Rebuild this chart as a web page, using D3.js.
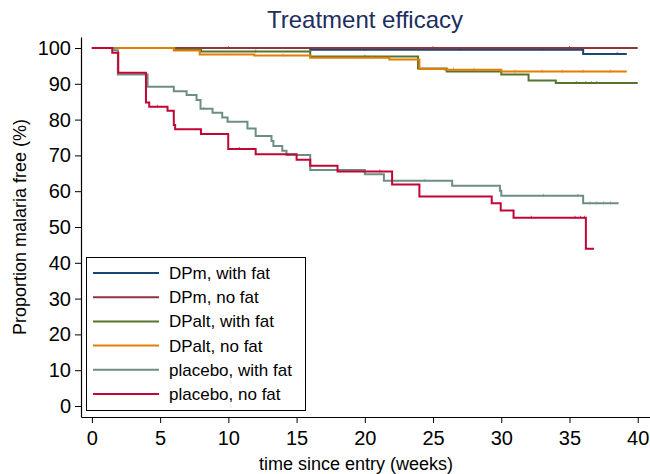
<!DOCTYPE html>
<html>
<head>
<meta charset="utf-8">
<script src="https://cdn.jsdelivr.net/npm/d3@7"></script>
<style>
  body { margin: 0; background: #fff; }
  svg { display: block; font-family: "Liberation Sans", Arial, sans-serif; }
</style>
</head>
<body>
<svg id="chart" width="650" height="474"></svg>
<script>
// series names and colours, legend order
const seriesNames = ['DPm, with fat', 'DPm, no fat', 'DPalt, with fat', 'DPalt, no fat', 'placebo, with fat', 'placebo, no fat']
const seriesColors = ['#1a476f', '#90353b', '#55752f', '#e37e00', '#6e8e84', '#c10534']

// Kaplan-Meier steps: [weeks, % malaria free] at each change
const dpmWithFat = [[0, 100], [16, 99.5], [36, 98.3], [39.2, 98.3]]
const dpmNoFat = [[0, 100], [40, 100]]
const dpaltWithFat = [[0, 100], [6.1, 99.6], [8, 99], [16, 97.6], [23.9, 94.3], [26, 93.4], [30, 92.6], [32, 90.9], [34, 90.2], [40, 90.2]]
const dpaltNoFat = [[0, 100], [6, 99.3], [7.9, 98.2], [11.9, 97.9], [16, 97.3], [21.8, 96.8], [24, 94.1], [25.9, 93.9], [30, 93.4], [39.2, 93.4]]
const placeboWithFat = [[0, 100], [1.63, 99.4], [1.9, 92.6], [4.08, 89.2], [6, 87.9], [6.94, 86.9], [7.67, 85.5],
  [7.96, 83], [8.84, 81.9], [9.55, 80.6], [9.94, 79.4], [11.4, 77.5], [12, 75.4], [13.16, 74], [13.3, 72.6],
  [13.95, 71.3], [14.26, 70.1], [16, 65.9], [20, 64.7], [21.4, 62.9], [26.4, 61.5], [29.9, 60.1], [30, 58.7],
  [36, 56.6], [38.6, 56.6]]
const placeboNoFat = [[0, 100], [1.49, 98.7], [1.93, 93.1], [3.96, 84.8], [4.2, 83.6], [5.54, 82.5], [6, 78.5],
  [6.1, 77.3], [7.99, 76], [9.99, 71.8], [12, 70.3], [15, 68.8], [16, 67.1], [18, 65.5], [22, 61.9], [24, 58.5],
  [29.3, 56.6], [29.96, 54.6], [30.9, 52.6], [36.2, 43.9], [36.8, 43.9]]

// censored times (small ticks on the curves)
const censored = [
  [20, 27, 33, 38.5],
  [10, 25, 35],
  [12, 20, 35.5, 36.2, 36.6, 37],
  [14, 20.5, 26.5, 28, 31, 33, 34.5, 36, 38],
  [8.2, 24.4, 33.1, 35.6, 36.5, 37, 37.5, 38],
  [4.8, 10.8, 21.1, 32.2, 35.4, 35.8, 36.1]
]

const xTicks = [0, 5, 10, 15, 20, 25, 30, 35, 40]
const yTicks = [0, 10, 20, 30, 40, 50, 60, 70, 80, 90, 100]

const allSeries = [dpmWithFat, dpmNoFat, dpaltWithFat, dpaltNoFat, placeboWithFat, placeboNoFat]

const svg = d3.select('#chart')

let x = d3.scaleLinear().domain([-0.8, 40.9]).range([81, 650])
let y = d3.scaleLinear().domain([-3.07, 103.07]).range([417, 37])

// title
svg.append('text')
  .attr('x', 365).attr('y', 28)
  .attr('text-anchor', 'middle')
  .attr('font-size', 24)
  .attr('fill', '#1c2f5e')
  .text('Treatment efficacy')

// axes
let yAxis = svg.append('g')
  .attr('transform', 'translate(81,0)')
  .call(d3.axisLeft(y).tickValues(yTicks).tickSize(6).tickPadding(4).tickSizeOuter(0))
yAxis.select('.domain').attr('stroke', '#000').attr('stroke-width', 1.2)
yAxis.selectAll('text').attr('font-size', 20).attr('font-family', 'Liberation Sans, Arial, sans-serif').attr('fill', '#000')

let xAxis = svg.append('g')
  .attr('transform', 'translate(0,417)')
  .call(d3.axisBottom(x).tickValues(xTicks).tickSize(6).tickPadding(8).tickSizeOuter(0))
xAxis.select('.domain').attr('stroke', '#000').attr('stroke-width', 1.2)
xAxis.selectAll('text').attr('font-size', 20).attr('font-family', 'Liberation Sans, Arial, sans-serif').attr('fill', '#000')

// axis titles
svg.append('text')
  .attr('x', 356).attr('y', 470)
  .attr('text-anchor', 'middle')
  .attr('font-size', 18)
  .text('time since entry (weeks)')

svg.append('text')
  .attr('transform', 'translate(26,227) rotate(-90)')
  .attr('text-anchor', 'middle')
  .attr('font-size', 18)
  .text('Proportion malaria free (%)')

// survival step lines
let line = d3.line()
  .x(d => x(d[0]))
  .y(d => y(d[1]))
  .curve(d3.curveStepAfter)

function survAt(s, t) {
  let v = s[0][1]
  s.forEach(d => { if (d[0] <= t) v = d[1] })
  return v
}

let plot = svg.append('g')
allSeries.forEach((s, i) => {
  plot.append('path')
    .datum(s)
    .attr('d', line)
    .attr('fill', 'none')
    .attr('stroke', seriesColors[i])
    .attr('stroke-width', 2)

  // censor marks are faint in the original
  plot.selectAll('.cens' + i)
    .data(censored[i]).enter().append('line')
    .attr('class', 'cens' + i)
    .attr('x1', t => x(t)).attr('x2', t => x(t))
    .attr('y1', t => y(survAt(s, t)) + 1)
    .attr('y2', t => y(survAt(s, t)) - 2)
    .attr('stroke', seriesColors[i])
    .attr('stroke-opacity', 0.7)
    .attr('stroke-width', 1)
})

// legend
let legend = svg.append('g').attr('id', 'legend')
legend.append('rect')
  .attr('x', 86.5).attr('y', 257.5)
  .attr('width', 219).attr('height', 153)
  .attr('fill', '#fff')
  .attr('stroke', '#000')
  .attr('stroke-width', 1)

legend.selectAll('line')
  .data(seriesNames).enter().append('line')
  .attr('x1', 93).attr('x2', 159)
  .attr('y1', (d, i) => 273 + i * 24.2)
  .attr('y2', (d, i) => 273 + i * 24.2)
  .attr('stroke', (d, i) => seriesColors[i])
  .attr('stroke-width', 2)

legend.selectAll('text')
  .data(seriesNames).enter().append('text')
  .attr('x', 169)
  .attr('y', (d, i) => 273 + i * 24.2 + 6)
  .attr('font-size', 17)
  .text(d => d)
</script>
</body>
</html>
